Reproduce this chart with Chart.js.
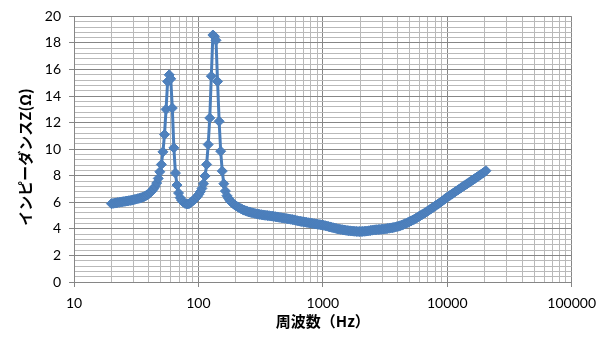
<!DOCTYPE html>
<html><head><meta charset="utf-8">
<script src="https://cdn.jsdelivr.net/npm/chart.js@4.4.0/dist/chart.umd.min.js"></script>
<style>html,body{margin:0;padding:0;background:#fff;overflow:hidden}#wrap{width:604px;height:345px}</style>
</head><body><div id="wrap"><canvas id="c" width="604" height="345"></canvas></div>
<script>
// frequencies (Hz), 1/24-octave points
const frequencies = [
  20, 20.59, 21.19, 21.81, 22.45, 23.11, 23.78, 24.48, 25.2, 25.94, 26.7, 27.48, 28.28, 29.11, 29.97, 30.84, 31.75, 32.68, 33.64, 34.62, 35.64, 36.68, 37.76, 38.86,
  40, 41.17, 42.38, 43.62, 44.9, 46.21, 47.57, 48.96, 50.4, 51.87, 53.39, 54.96, 56.57, 58.23, 59.93, 61.69, 63.5, 65.36, 67.27, 69.24, 71.27, 73.36, 75.51, 77.72,
  80, 82.34, 84.76, 87.24, 89.8, 92.43, 95.14, 97.92, 100.79, 103.75, 106.79, 109.92, 113.14, 116.45, 119.86, 123.38, 126.99, 130.71, 134.54, 138.49, 142.54, 146.72, 151.02, 155.44,
  160, 164.69, 169.51, 174.48, 179.59, 184.86, 190.27, 195.85, 201.59, 207.49, 213.57, 219.83, 226.27, 232.9, 239.73, 246.75, 253.98, 261.43, 269.09, 276.97, 285.09, 293.44, 302.04, 310.89,
  320, 329.38, 339.03, 348.96, 359.19, 369.71, 380.55, 391.7, 403.17, 414.99, 427.15, 439.67, 452.55, 465.81, 479.46, 493.51, 507.97, 522.85, 538.17, 553.94, 570.18, 586.88, 604.08, 621.78,
  640, 658.75, 678.05, 697.93, 718.37, 739.42, 761.09, 783.4, 806.35, 829.98, 854.3, 879.33, 905.1, 931.62, 958.92, 987.01, 1015.94, 1045.71, 1076.35, 1107.88, 1140.35, 1173.77, 1208.16, 1243.56,
  1280, 1317.5, 1356.1, 1395.9, 1436.7, 1478.8, 1522.2, 1566.8, 1612.7, 1660, 1708.6, 1758.7, 1810.2, 1863.2, 1917.8, 1974, 2031.9, 2091.4, 2152.7, 2215.8, 2280.7, 2347.5, 2416.3, 2487.1,
  2560, 2635, 2712, 2792, 2873, 2958, 3044, 3134, 3225, 3320, 3417, 3517, 3620, 3726, 3835, 3948, 4064, 4183, 4305, 4431, 4561, 4695, 4833, 4974,
  5120, 5270, 5424, 5583, 5747, 5915, 6089, 6267, 6451, 6640, 6834, 7035, 7241, 7453, 7671, 7896, 8127, 8365, 8610, 8863, 9122, 9390, 9665, 9948,
  10240, 10540, 10849, 11167, 11494, 11831, 12177, 12534, 12902, 13280, 13669, 14069, 14482, 14906, 15343, 15792, 16255, 16731, 17221, 17726, 18245, 18780, 19330, 19897,
  20480
];
// impedance (ohm)
const impedances = [
  5.9, 5.92, 5.94, 5.96, 5.98, 6.0, 6.02, 6.04, 6.06, 6.08, 6.1, 6.12, 6.14, 6.16, 6.19, 6.22, 6.25, 6.28, 6.31, 6.35, 6.39, 6.44, 6.49, 6.56,
  6.65, 6.75, 6.88, 7.02, 7.2, 7.45, 7.8, 8.3, 8.85, 9.8, 11.1, 13.0, 15.1, 15.6, 15.3, 13.1, 10.1, 8.2, 7.3, 6.7, 6.35, 6.15, 6.02, 5.93,
  5.88, 5.88, 5.92, 6.0, 6.1, 6.2, 6.32, 6.45, 6.6, 6.8, 7.05, 7.4, 7.98, 8.85, 10.35, 12.35, 15.5, 18.6, 18.5, 18.2, 15.1, 12.1, 9.85, 8.35,
  7.4, 6.85, 6.5, 6.3, 6.12, 6.0, 5.9, 5.8, 5.72, 5.65, 5.58, 5.52, 5.46, 5.41, 5.36, 5.32, 5.28, 5.25, 5.22, 5.19, 5.16, 5.13, 5.11, 5.09,
  5.07, 5.05, 5.03, 5.02, 5.0, 4.99, 4.97, 4.96, 4.94, 4.92, 4.9, 4.88, 4.86, 4.84, 4.82, 4.8, 4.78, 4.76, 4.74, 4.72, 4.7, 4.68, 4.65, 4.62,
  4.59, 4.57, 4.55, 4.53, 4.51, 4.49, 4.47, 4.45, 4.43, 4.41, 4.39, 4.37, 4.35, 4.33, 4.31, 4.29, 4.27, 4.24, 4.21, 4.18, 4.15, 4.12, 4.09, 4.06,
  4.03, 4.0, 3.98, 3.96, 3.94, 3.92, 3.9, 3.88, 3.86, 3.85, 3.84, 3.83, 3.82, 3.81, 3.8, 3.8, 3.8, 3.81, 3.82, 3.83, 3.84, 3.86, 3.88, 3.9,
  3.92, 3.93, 3.94, 3.95, 3.96, 3.97, 3.98, 3.99, 4.01, 4.03, 4.05, 4.07, 4.09, 4.11, 4.14, 4.17, 4.2, 4.24, 4.28, 4.33, 4.38, 4.43, 4.48, 4.54,
  4.6, 4.66, 4.72, 4.79, 4.86, 4.93, 5.0, 5.07, 5.14, 5.21, 5.29, 5.37, 5.45, 5.53, 5.61, 5.69, 5.77, 5.85, 5.93, 6.01, 6.1, 6.19, 6.28, 6.37,
  6.45, 6.53, 6.61, 6.69, 6.77, 6.85, 6.93, 7.01, 7.09, 7.17, 7.25, 7.32, 7.4, 7.48, 7.56, 7.64, 7.72, 7.8, 7.88, 7.96, 8.04, 8.12, 8.2, 8.28,
  8.38
];
const xTickLabels = [10, 100, 1000, 10000, 100000];
const yTickLabels = [0, 2, 4, 6, 8, 10, 12, 14, 16, 18, 20];
const xAxisTitle = '周波数（Hz）';
const yAxisTitle = 'インピーダンスZ(Ω)';

const MAJOR = '#868686', MINOR = '#b9b9b9';
const isMajorX = v => xTickLabels.some(t => Math.abs(t - v) < 1e-6 * t);
const isMajorY = v => yTickLabels.some(t => Math.abs(t - v) < 1e-6);

const axisTitles = {
  id: 'axisTitles',
  afterDraw(chart) {
    const c = chart.ctx, a = chart.chartArea;
    c.save();
    c.fillStyle = '#000';
    c.font = 'bold 15px "Noto Sans CJK JP"';
    c.textAlign = 'center';
    c.textBaseline = 'middle';
    c.fillText(xAxisTitle, (a.left + a.right) / 2, 321);
    c.translate(25, 157);
    c.rotate(-Math.PI / 2);
    c.fillText(yAxisTitle, 0, 0);
    c.restore();
  }
};

function draw() {
  const points = frequencies.map((f, i) => ({x: f, y: impedances[i]}));
  new Chart(document.getElementById('c'), {
    type: 'scatter',
    data: {datasets: [{
      data: points, showLine: true, tension: 0,
      borderColor: '#4a7ebb', borderWidth: 3,
      backgroundColor: '#4f81bd', pointBorderColor: '#4a7ebb', pointBorderWidth: 1,
      pointStyle: 'rectRot', pointRadius: 5, pointHoverRadius: 5
    }]},
    options: {
      responsive: false, animation: false, events: [],
      layout: {padding: {left: 0, right: 31, top: 14, bottom: 0}},
      plugins: {legend: {display: false}, tooltip: {enabled: false}},
      scales: {
        x: {
          type: 'logarithmic', min: 10, max: 100000, position: 'bottom',
          afterBuildTicks: s => {
            s.ticks = s.ticks.filter(t => {
              const m = t.value / Math.pow(10, Math.floor(Math.log10(t.value) + 1e-9));
              return Math.abs(m - 1.5) > 1e-6;
            });
          },
          afterFit: s => { s.height = 63; },
          ticks: {autoSkip: false, maxRotation: 0, minRotation: 0, padding: 8, color: '#000',
                  font: {family: 'Lato', size: 14},
                  callback: v => isMajorX(v) ? String(v) : ''},
          grid: {color: c => isMajorX(c.tick.value) ? MAJOR : MINOR,
                 tickColor: c => isMajorX(c.tick.value) ? MAJOR : 'rgba(0,0,0,0)',
                 tickLength: 5, lineWidth: 1},
          border: {color: MAJOR}
        },
        y: {
          min: 0, max: 20,
          afterFit: s => { s.width = 74; },
          ticks: {stepSize: 0.4, autoSkip: false, padding: 8, color: '#000',
                  font: {family: 'Lato', size: 14},
                  callback: v => isMajorY(v) ? String(Math.round(v)) : ''},
          grid: {color: c => isMajorY(c.tick.value) ? MAJOR : MINOR,
                 tickColor: c => isMajorY(c.tick.value) ? MAJOR : 'rgba(0,0,0,0)',
                 tickLength: 5, lineWidth: 1},
          border: {color: MAJOR}
        }
      }
    },
    plugins: [axisTitles]
  });
}
const fontLoads = ['14px Lato', 'bold 15px "Noto Sans CJK JP"'].map(f => document.fonts.load(f).catch(() => null));
Promise.all(fontLoads).then(draw, draw);
</script>
</body></html>
